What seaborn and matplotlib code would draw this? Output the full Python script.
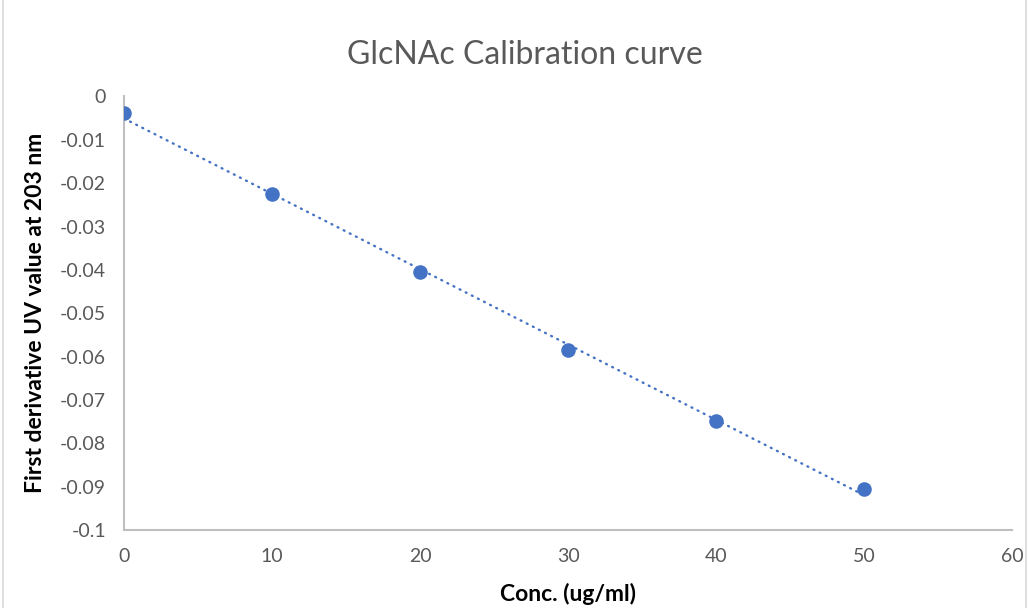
import matplotlib
matplotlib.use("Agg")
import matplotlib.pyplot as plt
import seaborn as sns
import pandas as pd
from matplotlib.patches import Rectangle

# Calibration data
conc = [0, 10, 20, 30, 40, 50]
deriv_uv = [-0.0039, -0.0226, -0.0406, -0.0585, -0.0749, -0.0906]
x_ticks = [0, 10, 20, 30, 40, 50, 60]
y_ticks = [0, -0.01, -0.02, -0.03, -0.04, -0.05, -0.06, -0.07, -0.08, -0.09, -0.1]
y_tick_labels = ["0", "-0.01", "-0.02", "-0.03", "-0.04", "-0.05",
                 "-0.06", "-0.07", "-0.08", "-0.09", "-0.1"]

df = pd.DataFrame({"conc": conc, "value": deriv_uv})

sns.set_theme(style="white")
plt.rcParams["font.family"] = ["Lato", "DejaVu Sans"]

blue = "#4472C4"
grey_text = "#595959"
axis_grey = "#BFBFBF"

fig = plt.figure(figsize=(10.29, 6.08), dpi=100)
ax = fig.add_axes([0.1205, 0.1283, 0.863, 0.713])

# Linear trendline (dotted) and data points
sns.regplot(data=df, x="conc", y="value", scatter=False, ci=None, ax=ax,
            line_kws=dict(color=blue, lw=1.7, linestyle=(0, (0.4, 2.5)),
                          dash_capstyle="round"))
sns.scatterplot(data=df, x="conc", y="value", ax=ax, s=110, color=blue,
                edgecolor=blue, linewidth=0, zorder=5)

ax.set_xlim(0, 60)
ax.set_ylim(-0.1, 0)
ax.set_xticks(x_ticks)
ax.set_xticklabels([str(t) for t in x_ticks])
ax.set_yticks(y_ticks)
ax.set_yticklabels(y_tick_labels)
ax.tick_params(axis="both", length=0, labelsize=14, colors=grey_text)
ax.tick_params(axis="x", pad=13)
ax.tick_params(axis="y", pad=13)

for side in ("top", "right"):
    ax.spines[side].set_visible(False)
for side in ("left", "bottom"):
    ax.spines[side].set_color(axis_grey)
    ax.spines[side].set_linewidth(1.5)
ax.grid(False)
ax.patch.set_alpha(0)

ax.set_xlabel("Conc. (ug/ml)", fontsize=16.5, fontweight="bold", color="black")
ax.set_ylabel("First derivative UV value at 203 nm", fontsize=16.5,
              fontweight="bold", color="black")
ax.xaxis.set_label_coords(0.5, -0.122)
ax.yaxis.set_label_coords(-0.088, 0.5)

fig.text(0.51, 0.91, "GlcNAc Calibration curve", ha="center", va="center",
         fontsize=23, color=grey_text)

# Chart area border
fig.patches.append(Rectangle((0.003, -0.01), 0.994, 1.02, transform=fig.transFigure,
                             fill=False, edgecolor="#D9D9D9", linewidth=1.2))

fig.savefig("out.png", dpi=100)
